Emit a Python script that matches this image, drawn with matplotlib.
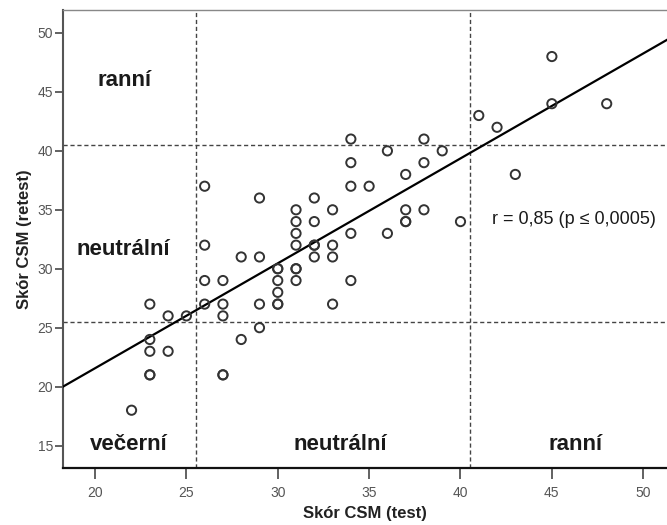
import matplotlib.pyplot as plt
import numpy as np

# skóre test / retest
test = [22, 23, 23, 23, 23, 23, 24, 24, 25,
        26, 26, 26, 26, 27, 27, 27, 27, 27, 28, 28,
        29, 29, 29, 29, 30, 30, 30, 30, 30, 30,
        31, 31, 31, 31, 31, 31, 31, 32, 32, 32, 32, 32,
        33, 33, 33, 33, 34, 34, 34, 34, 34, 35,
        36, 36, 37, 37, 37, 37, 38, 38, 38, 39, 40,
        41, 42, 43, 45, 45, 48]
retest = [18, 27, 24, 23, 21, 21, 26, 23, 26,
          37, 32, 29, 27, 29, 27, 26, 21, 21, 31, 24,
          36, 31, 27, 25, 30, 30, 29, 28, 27, 27,
          35, 34, 33, 32, 30, 30, 29, 36, 34, 32, 32, 31,
          35, 32, 31, 27, 41, 39, 37, 33, 29, 37,
          40, 33, 38, 35, 34, 34, 41, 39, 35, 40, 34,
          43, 42, 38, 48, 44, 44]

# regresni primka jak je v obrazku
reg_slope = 0.89
reg_intercept = 3.76

cut_low = 25.5
cut_high = 40.5
r_text = "r = 0,85 (p \u2264 0,0005)"
xticks = [20, 25, 30, 35, 40, 45, 50]
yticks = [15, 20, 25, 30, 35, 40, 45, 50]

plt.rcParams['font.family'] = ['Liberation Sans', 'DejaVu Sans']

fig = plt.figure(figsize=(6.67, 5.25), dpi=100)
ax = fig.add_axes([0.0945, 0.1086, 0.9055, 0.8724])
ax.set_xlim(18.25, 51.3)
ax.set_ylim(13.1, 51.95)

xx = np.array([18.25, 51.3])
ax.plot(xx, reg_slope * xx + reg_intercept, color='black', lw=1.6, zorder=3)

ax.scatter(test, retest, s=44, facecolors='none', edgecolors='#333333', linewidths=1.4, zorder=4)

for c in (cut_low, cut_high):
    ax.axvline(c, color='#444444', lw=1, ls=(0, (3, 2)), zorder=2)
    ax.axhline(c, color='#444444', lw=1, ls=(0, (3, 2)), zorder=2)

bold = dict(fontsize=16, fontweight='bold', color='#1a1a1a', va='baseline')
ax.text(21.64, 45.5, "ranní", ha='center', **bold)
ax.text(19.0, 31.2, "neutrální", ha='left', **bold)
ax.text(19.73, 14.6, "večerní", ha='left', **bold)
ax.text(33.4, 14.6, "neutrální", ha='center', **bold)
ax.text(46.27, 14.65, "ranní", ha='center', **bold)
ax.text(41.73, 33.8, r_text, fontsize=13, color='#1a1a1a', va='baseline', ha='left')

ax.set_xticks(xticks)
ax.set_yticks(yticks)
ax.tick_params(axis='x', direction='out', length=8, width=1.3, color='#555555',
               labelsize=10, labelcolor='#555555', pad=5)
ax.tick_params(axis='y', direction='out', length=6, width=1.3, color='#555555',
               labelsize=10, labelcolor='#555555', pad=1)
ax.spines['left'].set_linewidth(1.5)
ax.spines['bottom'].set_linewidth(1.6)
ax.spines['left'].set_color('#555555')
ax.spines['bottom'].set_color('#111111')
ax.spines['top'].set_color('#888888')
ax.spines['top'].set_linewidth(1)
ax.spines['right'].set_visible(False)

ax.set_xlabel("Skór CSM (test)", fontsize=12, fontweight='bold', color='#222222', labelpad=4)
ax.set_ylabel("Skór CSM (retest)", fontsize=12, fontweight='bold', color='#222222', labelpad=4)

fig.savefig("out.png", dpi=100)
